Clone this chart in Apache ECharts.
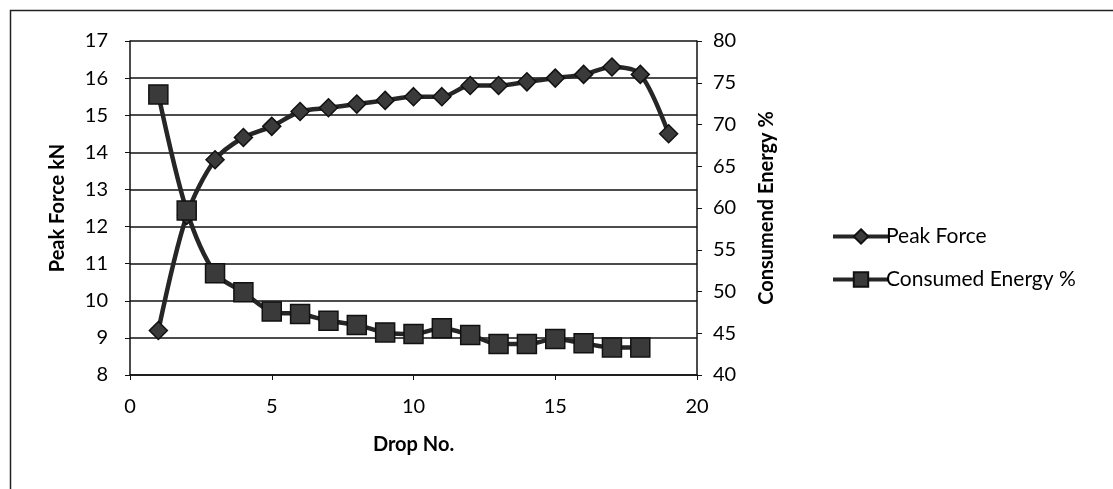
<!DOCTYPE html>
<html>
<head>
<meta charset="utf-8">
<script src="https://cdn.jsdelivr.net/npm/echarts@6/dist/echarts.min.js"></script>
<style>
html,body{margin:0;padding:0;background:#fff;}
#chart{width:1113px;height:489px;}
</style>
</head>
<body>
<div id="chart"></div>
<script>
var dropNo = [1,2,3,4,5,6,7,8,9,10,11,12,13,14,15,16,17,18,19];
var peakForce = [9.2,12.3,13.8,14.4,14.7,15.1,15.2,15.3,15.4,15.5,15.5,15.8,15.8,15.9,16.0,16.1,16.3,16.1,14.5];
var energyDrops = [1,2,3,4,5,6,7,8,9,10,11,12,13,14,15,16,17,18];
var consumedEnergy = [73.6,59.7,52.2,49.9,47.6,47.3,46.5,46.0,45.1,44.9,45.6,44.8,43.7,43.7,44.3,43.8,43.3,43.3];

var FONT = 'Lato, "Noto Sans", sans-serif';
var chart = echarts.init(document.getElementById('chart'));
chart.setOption({
  animation: false,
  backgroundColor: '#fff',
  textStyle: {fontFamily: FONT, color: '#000'},
  graphic: [{
    type: 'rect', left: 8, top: 8,
    shape: {width: 1300, height: 700},
    style: {fill: 'none', stroke: '#222', lineWidth: 1.5},
    silent: true, z: -1
  }],
  grid: {left: 130, right: 416, top: 41, bottom: 114, containLabel: false},
  legend: {
    orient: 'vertical', left: 826, top: 221, itemGap: 22,
    itemWidth: 56, itemHeight: 18,
    lineStyle: {width: 4},
    textStyle: {fontFamily: FONT, fontSize: 21, color: '#000', padding: [0,0,0,-8]},
    data: ['Peak Force', 'Consumed Energy %']
  },
  xAxis: {
    type: 'value', min: 0, max: 20, interval: 5,
    name: 'Drop No.', nameLocation: 'middle', nameGap: 60,
    nameTextStyle: {fontFamily: FONT, fontSize: 20, fontWeight: 'bold', color: '#000'},
    axisLine: {show: true, onZero: false, lineStyle: {color: '#111', width: 1.5}},
    axisTick: {show: true, inside: false, length: 5, lineStyle: {color: '#111'}},
    axisLabel: {fontFamily: FONT, fontSize: 20, color: '#000', margin: 22},
    splitLine: {show: false}
  },
  yAxis: [{
    type: 'value', min: 8, max: 17, interval: 1, position: 'left',
    name: 'Peak Force kN', nameLocation: 'middle', nameGap: 62, nameRotate: 90,
    nameTextStyle: {fontFamily: FONT, fontSize: 20, fontWeight: 'bold', color: '#000'},
    axisLine: {show: true, lineStyle: {color: '#111', width: 1.5}},
    axisTick: {show: true, length: 5, lineStyle: {color: '#111'}},
    axisLabel: {fontFamily: FONT, fontSize: 20, color: '#000', margin: 22},
    splitLine: {show: true, lineStyle: {color: '#111', width: 1.5}}
  }, {
    type: 'value', min: 40, max: 80, interval: 5, position: 'right',
    name: 'Consumend Energy %', nameLocation: 'middle', nameGap: 60, nameRotate: 90,
    nameTextStyle: {fontFamily: FONT, fontSize: 20, fontWeight: 'bold', color: '#000'},
    axisLine: {show: true, lineStyle: {color: '#111', width: 1.5}},
    axisTick: {show: true, length: 5, lineStyle: {color: '#111'}},
    axisLabel: {fontFamily: FONT, fontSize: 20, color: '#000', margin: 16},
    splitLine: {show: false}
  }],
  series: [{
    name: 'Peak Force', type: 'line', yAxisIndex: 0, smooth: 0.3,
    data: dropNo.map(function(x, i){ return [x, peakForce[i]]; }),
    symbol: 'diamond', symbolSize: 18,
    lineStyle: {color: '#262626', width: 4.5},
    itemStyle: {color: '#3a3a3a', borderColor: '#111', borderWidth: 1.5}
  }, {
    name: 'Consumed Energy %', type: 'line', yAxisIndex: 1, smooth: 0.3,
    data: energyDrops.map(function(x, i){ return [x, consumedEnergy[i]]; }),
    symbol: 'rect', symbolSize: 19,
    lineStyle: {color: '#262626', width: 4.5},
    itemStyle: {color: '#3a3a3a', borderColor: '#111', borderWidth: 1.5}
  }]
});
</script>
</body>
</html>
